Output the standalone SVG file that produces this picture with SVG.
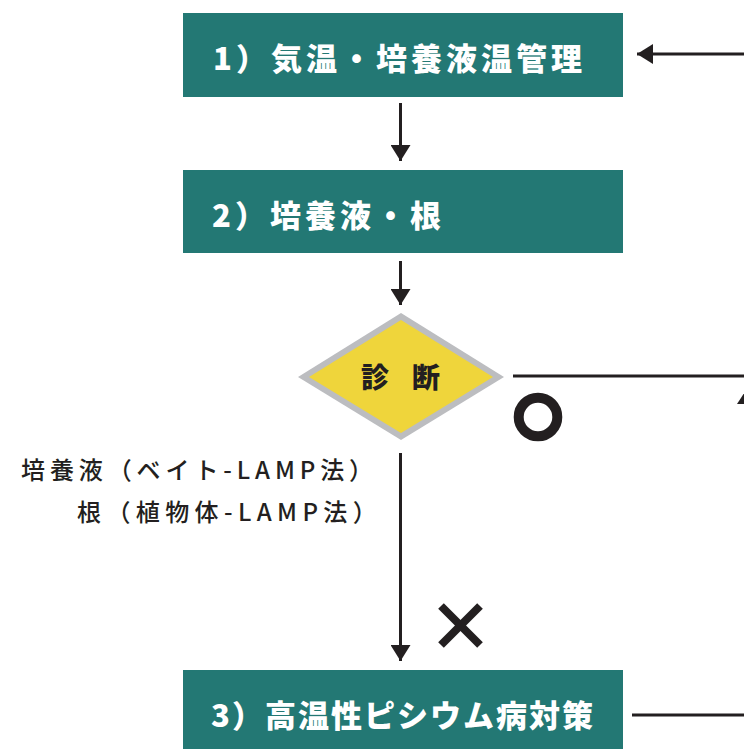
<svg xmlns="http://www.w3.org/2000/svg" width="744" height="749" viewBox="0 0 744 749">
<defs>
<style>
.box{fill:#237874}
.bt{font-family:"Noto Sans CJK JP","Noto Sans",sans-serif;font-weight:900;font-size:31px;fill:#ffffff;letter-spacing:4px}
.lbl{font-family:"Noto Sans CJK JP","Noto Sans",sans-serif;font-weight:500;font-size:24px;fill:#231f20;letter-spacing:4.9px}
.dt{font-family:"Noto Sans CJK JP","Noto Sans",sans-serif;font-weight:900;font-size:28px;fill:#231f20;letter-spacing:23px}
.ln{stroke:#231f20;stroke-width:3;fill:none}
.ah{fill:#231f20}
</style>
<marker id="arr" viewBox="0 0 16 20" refX="16" refY="10" markerWidth="16" markerHeight="20" markerUnits="userSpaceOnUse" orient="auto">
<path d="M0,0 L16,10 L0,20 Z" fill="#231f20"/>
</marker>
</defs>
<rect width="744" height="749" fill="#ffffff"/>
<g id="connectors">
<line class="ln" x1="744" y1="54" x2="637" y2="54" marker-end="url(#arr)"/>
<line class="ln" x1="400.5" y1="103" x2="400.5" y2="161" marker-end="url(#arr)"/>
<line class="ln" x1="400.5" y1="261" x2="400.5" y2="305" marker-end="url(#arr)"/>
<line class="ln" x1="513" y1="376" x2="744" y2="376"/>
<polygon class="ah" points="748,387 737,404 759,404"/>
<line class="ln" x1="400.5" y1="453" x2="400.5" y2="661" marker-end="url(#arr)"/>
<line class="ln" x1="632" y1="715" x2="744" y2="715"/>
<circle cx="538" cy="417" r="19.3" fill="none" stroke="#231f20" stroke-width="10"/>
<g stroke="#231f20" stroke-width="8">
<line x1="441" y1="606" x2="480" y2="645"/>
<line x1="480" y1="606" x2="441" y2="645"/>
</g>
</g>
<g id="node1">
<rect class="box" x="183" y="13" width="440" height="84"/>
<text class="bt" x="213" y="69.5">1）気温・培養液温管理</text>
</g>
<g id="node2">
<rect class="box" x="183" y="170" width="440" height="83"/>
<text class="bt" x="212" y="226.5">2）培養液・根</text>
</g>
<g id="diamond">
<polygon points="298,377 401,313 504,377 401,440" fill="#bcbdc0"/>
<polygon points="309,377 401,320 493,377 401,433" fill="#efd53b"/>
<text class="dt" x="361" y="388">診断</text>
</g>
<g id="labels">
<text class="lbl" x="21" y="479">培養液（ベイト-LAMP法）</text>
<text class="lbl" x="77" y="521" style="letter-spacing:5.4px">根（植物体-LAMP法）</text>
</g>
<g id="node3">
<rect class="box" x="183" y="670" width="440" height="83"/>
<text class="bt" x="211" y="727" style="letter-spacing:2px">3）高温性ピシウム病対策</text>
</g>
</svg>
